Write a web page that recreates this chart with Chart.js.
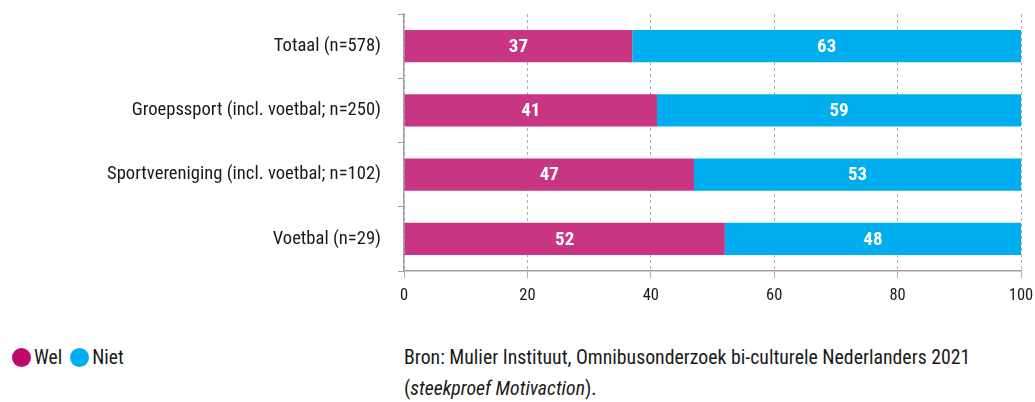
<!DOCTYPE html>
<html>
<head>
<meta charset="utf-8">
<script src="https://cdn.jsdelivr.net/npm/chart.js@4/dist/chart.umd.min.js"></script>
<style>
  html, body { margin: 0; padding: 0; background: #fff; }
  body { width: 1035px; height: 402px; position: relative; overflow: hidden;
         font-family: "Roboto Condensed", "DejaVu Sans Condensed", sans-serif; color: #1a1a1a; }
  #wrap { position: absolute; left: 0; top: 0; width: 1035px; height: 320px; }
  .legend { position: absolute; left: 12px; top: 346px; font-size: 19.5px; display: flex; align-items: center; }
  .legend .dot { width: 19px; height: 19px; border-radius: 50%; display: inline-block; margin-right: 3px; }
  .legend .item { display: flex; align-items: center; margin-right: 8px; }
  .source { position: absolute; left: 404px; top: 342px; font-size: 19.8px; line-height: 31px; color: #1a1a1a; }
</style>
</head>
<body>
<div id="wrap"><canvas id="c" width="1035" height="320"></canvas></div>
<div class="legend" id="legend"></div>
<div class="source">Bron: Mulier Instituut, Omnibusonderzoek bi-culturele Nederlanders 2021<br>(<i>steekproef Motivaction</i>).</div>
<script>
const categories = ["Totaal (n=578)", "Groepssport (incl. voetbal; n=250)", "Sportvereniging (incl. voetbal; n=102)", "Voetbal (n=29)"];
const welValues = [37, 41, 47, 52];
const nietValues = [63, 59, 53, 48];
const seriesNames = ["Wel", "Niet"];
const xTicks = [0, 20, 40, 60, 80, 100];

const FONT = '"Roboto Condensed", "DejaVu Sans Condensed", sans-serif';
const barColors = ["#C83582", "#00AEEF"];
const legendColors = ["#BE0A6E", "#00AEEF"];

const lg = document.getElementById('legend');
seriesNames.forEach((n, i) => {
  const it = document.createElement('span');
  it.className = 'item';
  it.innerHTML = '<span class="dot" style="background:' + legendColors[i] + '"></span>' + n;
  lg.appendChild(it);
});

const valueLabels = {
  id: 'valueLabels',
  afterDatasetsDraw(chart) {
    const ctx = chart.ctx;
    ctx.save();
    ctx.fillStyle = '#fff';
    ctx.font = 'bold 19px ' + FONT;
    ctx.textAlign = 'center';
    ctx.textBaseline = 'middle';
    chart.data.datasets.forEach((ds, di) => {
      const meta = chart.getDatasetMeta(di);
      meta.data.forEach((el, i) => {
        const p = el.getCenterPoint();
        ctx.fillText(String(ds.data[i]), p.x, p.y + 1);
      });
    });
    ctx.restore();
  }
};

function draw() {
new Chart(document.getElementById('c'), {
  type: 'bar',
  data: {
    labels: categories,
    datasets: [
      { label: seriesNames[0], data: welValues, backgroundColor: barColors[0], barPercentage: 0.5, categoryPercentage: 1 },
      { label: seriesNames[1], data: nietValues, backgroundColor: barColors[1], barPercentage: 0.5, categoryPercentage: 1 }
    ]
  },
  options: {
    indexAxis: 'y',
    responsive: false,
    animation: false,
    devicePixelRatio: 1,
    layout: { padding: { left: 0, right: 14, top: 14, bottom: 0 } },
    plugins: { legend: { display: false }, tooltip: { enabled: false } },
    scales: {
      x: {
        stacked: true,
        min: 0, max: 100,
        afterBuildTicks: (s) => { s.ticks = xTicks.map(v => ({ value: v })); },
        afterFit: (s) => { s.height = 49; s.paddingLeft = 0; s.paddingRight = 0; },
        grid: { color: '#b0b0b0', lineWidth: 1, drawTicks: true, tickLength: 7 },
        border: { color: '#a0a0a0', width: 1.5, dash: [3, 3] },
        ticks: { color: '#1a1a1a', font: { family: FONT, size: 16.5 }, padding: 8, maxRotation: 0 }
      },
      y: {
        stacked: true,
        afterFit: (s) => { s.width = 404; s.paddingTop = 0; s.paddingBottom = 0; },
        grid: { display: true, drawOnChartArea: false, drawTicks: true, tickLength: 6, color: '#a0a0a0', offset: true },
        border: { color: '#a0a0a0', width: 1.5 },
        ticks: { color: '#1a1a1a', font: { family: FONT, size: 18.6 }, padding: 17 }
      }
    }
  },
  plugins: [valueLabels]
});
}
if (document.fonts && document.fonts.load) {
  Promise.all([document.fonts.load('18px "Roboto Condensed"'), document.fonts.load('bold 18px "Roboto Condensed"')]).then(draw, draw);
} else draw();
</script>
</body>
</html>
